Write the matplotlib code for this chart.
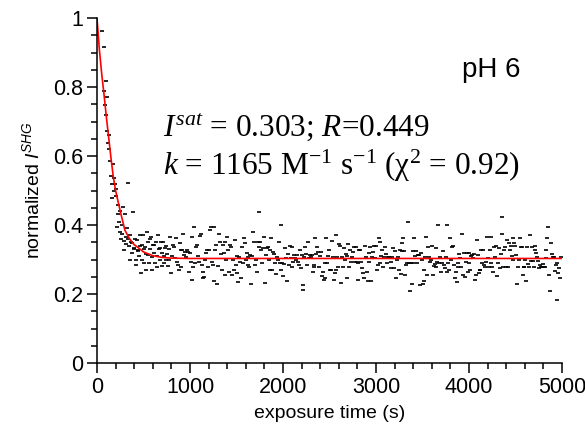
import numpy as np
import matplotlib
matplotlib.use('Agg')
import matplotlib.pyplot as plt
from matplotlib.ticker import MultipleLocator

plt.rcParams['font.family'] = ['Liberation Sans', 'DejaVu Sans']
plt.rcParams['mathtext.fontset'] = 'custom'
plt.rcParams['mathtext.rm'] = 'Liberation Serif'
plt.rcParams['mathtext.it'] = 'Liberation Serif:italic'
plt.rcParams['mathtext.sf'] = 'Liberation Sans:italic'

# early decay part (time s, normalized signal)
decay_t = [57, 72, 79, 86, 93, 100, 108, 112, 118, 124, 132, 140, 150, 158, 165, 172, 179, 186,
           194, 201, 208, 215, 222, 229, 236, 244, 251, 258, 265, 272, 280, 287, 294, 301, 308,
           315, 323, 330, 337, 344, 351, 358, 366, 373, 380, 387, 394, 401, 408, 415, 423, 430,
           437, 444, 451, 459, 466, 473, 480, 487, 494, 502, 509, 516, 523, 530, 538, 545, 552,
           559, 566, 574, 581, 588, 595, 602, 609, 616, 623, 630, 641, 648, 659, 666, 673, 681,
           688, 695, 702, 710, 717, 724, 731, 738, 745, 750, 760, 770, 778]
decay_v = [0.963, 0.788, 0.915, 0.748, 0.817, 0.72, 0.772, 0.672, 0.637, 0.661, 0.62, 0.585,
           0.543, 0.479, 0.518, 0.576, 0.535, 0.50, 0.52, 0.484, 0.504, 0.395, 0.458, 0.433,
           0.41, 0.44, 0.381, 0.36, 0.373, 0.40, 0.453, 0.328, 0.354, 0.431, 0.366, 0.345, 0.39,
           0.36, 0.521, 0.338, 0.371, 0.30, 0.35, 0.318, 0.347, 0.437, 0.33, 0.332, 0.36, 0.30,
           0.284, 0.357, 0.325, 0.328, 0.31, 0.371, 0.34, 0.262, 0.342, 0.30, 0.372, 0.33, 0.29,
           0.337, 0.315, 0.27, 0.381, 0.35, 0.313, 0.29, 0.33, 0.36, 0.366, 0.308, 0.27, 0.342,
           0.342, 0.32, 0.29, 0.35, 0.277, 0.31, 0.371, 0.33, 0.30, 0.332, 0.35, 0.281, 0.32,
           0.352, 0.29, 0.31, 0.332, 0.30, 0.34, 0.315, 0.28, 0.30, 0.33]

# plateau part, read in order from ~790 s to 5000 s
plateau_v = [
    # 790-1495
    0.366, 0.26, 0.31, 0.342, 0.337, 0.303, 0.363, 0.293, 0.284, 0.269, 0.348, 0.327, 0.279,
    0.329, 0.375, 0.313, 0.322, 0.308, 0.327, 0.322, 0.264, 0.319, 0.293, 0.366, 0.24, 0.279,
    0.395, 0.289, 0.337, 0.342, 0.31, 0.293, 0.368, 0.374, 0.284, 0.245, 0.264, 0.25, 0.298,
    0.319, 0.327, 0.277, 0.329, 0.385, 0.395, 0.293, 0.284, 0.238, 0.395, 0.327, 0.342, 0.23,
    0.281, 0.375, 0.351, 0.317, 0.269, 0.342, 0.319, 0.351, 0.255, 0.298, 0.366, 0.329, 0.264,
    # 1495-2204
    0.342, 0.337, 0.255, 0.298, 0.269, 0.358, 0.284, 0.31, 0.26, 0.235, 0.308, 0.293, 0.245,
    0.337, 0.289, 0.362, 0.348, 0.298, 0.319, 0.284, 0.308, 0.279, 0.313, 0.229, 0.31, 0.38,
    0.351, 0.284, 0.298, 0.264, 0.351, 0.335, 0.438, 0.352, 0.327, 0.289, 0.332, 0.366, 0.232,
    0.313, 0.332, 0.335, 0.30, 0.269, 0.327, 0.363, 0.269, 0.322, 0.317, 0.289, 0.258, 0.306,
    0.298, 0.351, 0.289, 0.269, 0.40, 0.29, 0.252, 0.287, 0.332, 0.303, 0.238, 0.316, 0.284,
    0.339, 0.303, 0.279, 0.337, 0.293,
    # 2204-2913
    0.313, 0.303, 0.298, 0.313, 0.293, 0.284, 0.329, 0.274, 0.313, 0.226, 0.213, 0.308, 0.337,
    0.316, 0.284, 0.351, 0.303, 0.313, 0.308, 0.313, 0.264, 0.279, 0.284, 0.362, 0.317, 0.335,
    0.322, 0.279, 0.31, 0.322, 0.252, 0.264, 0.24, 0.245, 0.289, 0.362, 0.289, 0.31, 0.329,
    0.269, 0.269, 0.354, 0.308, 0.242, 0.26, 0.269, 0.371, 0.308, 0.279, 0.345, 0.339, 0.232,
    0.308, 0.279, 0.332, 0.298, 0.317, 0.31, 0.245, 0.346, 0.279, 0.327, 0.293, 0.308, 0.322,
    0.337, 0.293,
    # 2913-3623
    0.337, 0.293, 0.24, 0.289, 0.327, 0.329, 0.293, 0.274, 0.26, 0.245, 0.339, 0.308, 0.264,
    0.238, 0.319, 0.293, 0.335, 0.238, 0.308, 0.322, 0.339, 0.303, 0.339, 0.269, 0.284, 0.363,
    0.289, 0.351, 0.31, 0.327, 0.279, 0.308, 0.337, 0.317, 0.29, 0.308, 0.306, 0.303, 0.293,
    0.274, 0.308, 0.332, 0.274, 0.325, 0.245, 0.298, 0.308, 0.269, 0.327, 0.257, 0.325, 0.348,
    0.361, 0.325, 0.255, 0.284, 0.289, 0.409, 0.29, 0.209, 0.29, 0.23, 0.289, 0.325, 0.363,
    0.31, 0.325, 0.289, 0.313, 0.313, 0.226,
    # 3623-4333
    0.319, 0.30, 0.23, 0.269, 0.237, 0.308, 0.366, 0.255, 0.337, 0.308, 0.293, 0.298, 0.339,
    0.255, 0.281, 0.287, 0.279, 0.334, 0.293, 0.40, 0.289, 0.308, 0.264, 0.29, 0.325, 0.284,
    0.274, 0.308, 0.40, 0.264, 0.29, 0.269, 0.363, 0.298, 0.335, 0.339, 0.284, 0.245, 0.264,
    0.235, 0.29, 0.279, 0.316, 0.303, 0.279, 0.375, 0.255, 0.319, 0.249, 0.293, 0.319, 0.264,
    0.319, 0.29, 0.269, 0.31, 0.313, 0.303, 0.316, 0.242, 0.255, 0.358, 0.313, 0.26, 0.269,
    0.269, 0.329, 0.29, 0.327, 0.284, 0.279, 0.293, 0.366, 0.303,
    # 4333-5000
    0.279, 0.329, 0.366, 0.29, 0.279, 0.264, 0.337, 0.308, 0.339, 0.252, 0.289, 0.332, 0.274,
    0.316, 0.375, 0.422, 0.279, 0.327, 0.337, 0.279, 0.358, 0.279, 0.348, 0.327, 0.339, 0.31,
    0.362, 0.30, 0.348, 0.339, 0.313, 0.229, 0.279, 0.298, 0.362, 0.337, 0.337, 0.255, 0.279,
    0.279, 0.298, 0.238, 0.337, 0.287, 0.279, 0.371, 0.296, 0.335, 0.296, 0.279, 0.327, 0.339,
    0.319, 0.308, 0.296, 0.274, 0.284, 0.279, 0.279, 0.287, 0.277, 0.277, 0.327, 0.303, 0.362,
    0.395, 0.255, 0.209, 0.348, 0.317, 0.306, 0.308, 0.267, 0.284, 0.182, 0.29, 0.26, 0.274,
    0.245, 0.306]
plateau_start, plateau_end = 790, 4990

# fitted curve
fit_t = [0, 25, 50, 75, 100, 125, 150, 175, 200, 250, 300, 350, 400, 450, 500, 600, 700, 800, 1000, 5000]
fit_v = [1.0, 0.91, 0.84, 0.78, 0.715, 0.655, 0.595, 0.54, 0.50, 0.44, 0.385, 0.36, 0.343,
         0.333, 0.322, 0.311, 0.306, 0.304, 0.303, 0.303]

plateau_t = np.linspace(plateau_start, plateau_end, len(plateau_v))
t = np.concatenate([decay_t, plateau_t])
v = np.concatenate([decay_v, plateau_v])

fig = plt.figure(figsize=(5.85, 4.4), dpi=100)
ax = fig.add_axes([0.1658, 0.175, 0.795, 0.784])

ax.plot(t, v, linestyle='none', marker='_', markersize=3, markeredgewidth=1.2, color='black')
ax.plot(fit_t, fit_v, color='red', linewidth=1.2)

ax.set_xlim(0, 5000)
ax.set_ylim(0, 1)
ax.spines['top'].set_visible(False)
ax.spines['right'].set_visible(False)
for s in ('left', 'bottom'):
    ax.spines[s].set_linewidth(1.1)
ax.xaxis.set_major_locator(MultipleLocator(1000))
ax.xaxis.set_minor_locator(MultipleLocator(200))
ax.yaxis.set_minor_locator(MultipleLocator(0.05))
ax.set_yticks([0, 0.2, 0.4, 0.6, 0.8, 1.0])
ax.set_yticklabels(['0', '0.2', '0.4', '0.6', '0.8', '1'])
ax.tick_params(which='major', direction='out', length=7, width=1.1, labelsize=15.5, pad=3)
ax.tick_params(which='minor', direction='out', length=4, width=1.1)

ax.set_xlabel('exposure time (s)', fontsize=14, labelpad=5)
ax.set_ylabel(r'normalized $\mathsf{I^{SHG}}$', fontsize=14, labelpad=7)

ax.text(3924, 0.829, 'pH 6', fontsize=20, ha='left', va='baseline')
ax.text(710, 0.658, r'$I^{sat}$ = 0.303; $R$=0.449', fontsize=22.5, ha='left', va='baseline',
        family='Liberation Serif')
ax.text(710, 0.545, r'$k$ = 1165 M$^{-1}$ s$^{-1}$ (χ$^{2}$ = 0.92)', fontsize=22.5, ha='left',
        va='baseline', family='Liberation Serif')

fig.savefig('out.png', dpi=100)
